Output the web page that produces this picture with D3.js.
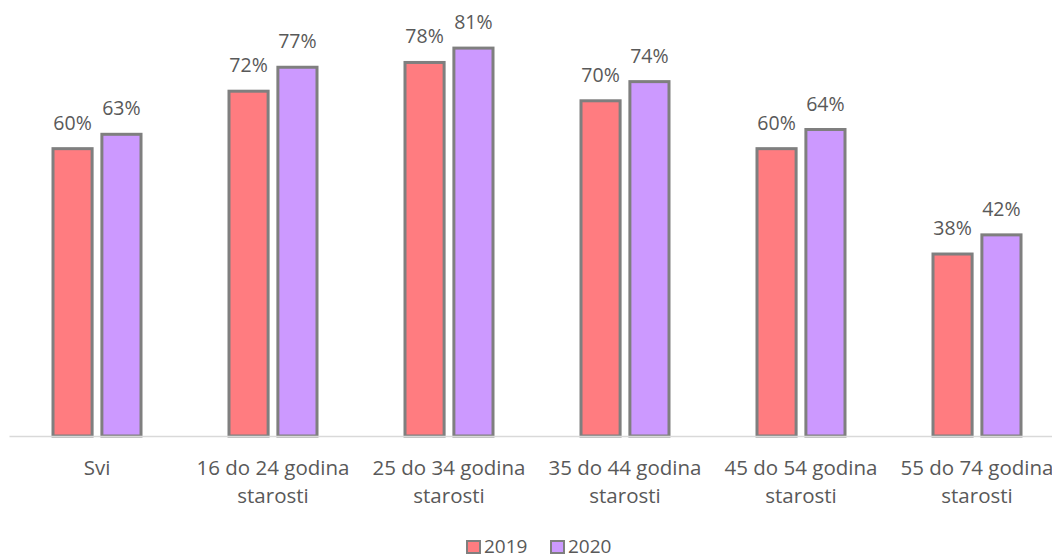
<!DOCTYPE html>
<html>
<head>
<meta charset="utf-8">
<script src="https://cdn.jsdelivr.net/npm/d3@7"></script>
<style>
  body { margin: 0; background: #fff; }
  svg text { font-family: "Open Sans", sans-serif; fill: #595959; }
</style>
</head>
<body>
<svg id="chart" width="1052" height="559"></svg>
<script>
const categories = [
  ['Svi'],
  ['16 do 24 godina', 'starosti'],
  ['25 do 34 godina', 'starosti'],
  ['35 do 44 godina', 'starosti'],
  ['45 do 54 godina', 'starosti'],
  ['55 do 74 godina', 'starosti']
]
const seriesNames = ['2019', '2020']
const values2019 = [0.60, 0.72, 0.78, 0.70, 0.60, 0.38]
const values2020 = [0.63, 0.77, 0.81, 0.74, 0.64, 0.42]
const colors = ['#FF7C80', '#CC99FF']

const svg = d3.select('#chart')
const box = {left: 9, right: 1065, top: 5, bottom: 436}

const idx = d3.range(categories.length)
const xScale = d3.scaleBand()
  .domain(idx)
  .range([box.left, box.right])
  .paddingInner(0.5)
  .paddingOuter(0.25)

const xSub = d3.scaleBand()
  .domain(seriesNames)
  .range([0, xScale.bandwidth()])
  .paddingInner(0.2)

const yScale = d3.scaleLinear()
  .domain([0, 0.9])
  .range([box.bottom, box.top])

const fmt = d3.format('.0%')
const series = [values2019, values2020]

// bars
series.forEach((vals, s) => {
  const g = svg.append('g')
  g.selectAll('rect')
    .data(vals)
    .enter()
    .append('rect')
    .attr('x', (d, i) => xScale(i) + xSub(seriesNames[s]))
    .attr('y', d => yScale(d))
    .attr('width', xSub.bandwidth())
    .attr('height', d => box.bottom - yScale(d))
    .style('fill', colors[s])
    .style('stroke', '#7F7F7F')
    .style('stroke-width', 3)

  g.selectAll('text')
    .data(vals)
    .enter()
    .append('text')
    .attr('x', (d, i) => xScale(i) + xSub(seriesNames[s]) + xSub.bandwidth() / 2)
    .attr('y', d => yScale(d) - 19)
    .attr('text-anchor', 'middle')
    .style('font-size', '19.5px')
    .text(d => fmt(d))
})

// axis
const xAxis = svg.append('g')
  .attr('transform', `translate(0,${box.bottom})`)
  .call(d3.axisBottom(xScale).tickSize(0).tickFormat(''))
xAxis.select('.domain')
  .attr('stroke', '#D9D9D9')
  .attr('stroke-width', 1.5)

const cat = svg.append('g')
cat.selectAll('text')
  .data(categories)
  .enter()
  .append('text')
  .attr('text-anchor', 'middle')
  .attr('x', (d, i) => xScale(i) + xScale.bandwidth() / 2)
  .attr('y', 475)
  .style('font-size', '20.5px')
  .each(function(d) {
    const t = d3.select(this)
    d.forEach((line, j) => {
      t.append('tspan')
        .attr('x', t.attr('x'))
        .attr('dy', j === 0 ? 0 : 28)
        .text(line)
    })
  })

// legend
const legend = svg.append('g')
const legendX = [466, 550]
seriesNames.forEach((name, s) => {
  legend.append('rect')
    .attr('x', legendX[s] + 1)
    .attr('y', 541)
    .attr('width', 13)
    .attr('height', 12)
    .style('fill', colors[s])
    .style('stroke', '#7F7F7F')
    .style('stroke-width', 2)
  legend.append('text')
    .attr('x', legendX[s] + 18)
    .attr('y', 553)
    .style('font-size', '19px')
    .text(name)
})
</script>
</body>
</html>
